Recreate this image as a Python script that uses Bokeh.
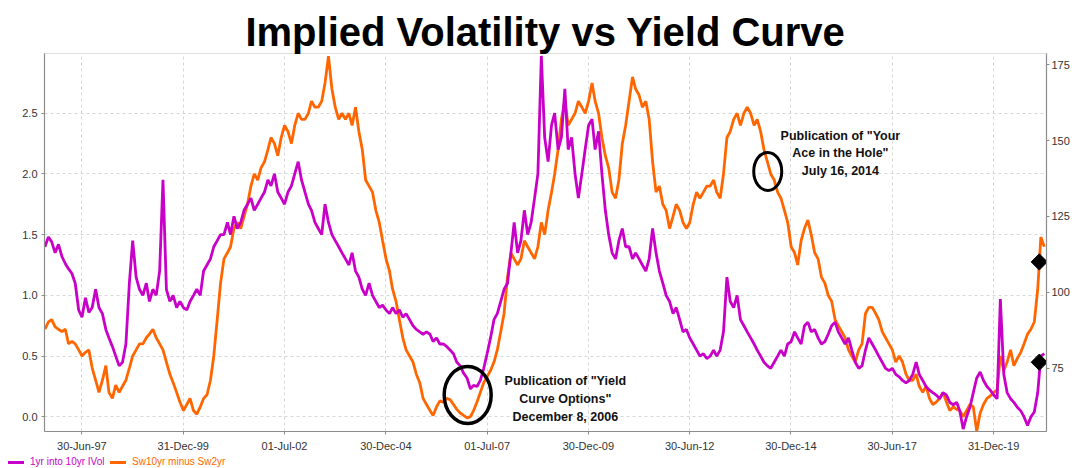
import numpy as np
import pandas as pd
from bokeh.plotting import figure
from bokeh.layouts import column
from bokeh.models import (Range1d, LinearAxis, FixedTicker, Div,
                          NumeralTickFormatter, DatetimeTickFormatter, ColumnDataSource)
from bokeh.core.properties import value
from bokeh.embed import file_html
from bokeh.resources import INLINE

# ---------------- data (monthly readings, Aug-1996 .. Apr-2021) ----------------
start_month = "1996-08-01"
end_month = "2021-04-01"

# 1yr into 10yr implied vol (left axis)
ivol = [
    1.40, 1.48, 1.44, 1.35, 1.42,                                            # 1996
    1.32, 1.26, 1.22, 1.18, 1.10, 0.88, 0.82, 0.98, 0.86, 0.90, 1.05, 0.90,  # 1997
    0.85, 0.72, 0.65, 0.58, 0.50, 0.42, 0.45, 0.60, 1.10, 1.45, 1.15, 1.05,  # 1998
    1.00, 1.10, 0.95, 1.05, 1.00, 1.20, 1.95, 1.05, 0.95, 1.00, 0.90, 0.95,  # 1999
    0.90, 0.88, 0.95, 1.00, 1.05, 1.00, 1.20, 1.25, 1.30, 1.40, 1.45, 1.50,  # 2000
    1.50, 1.60, 1.50, 1.65, 1.55, 1.60, 1.70, 1.75, 1.80, 1.70, 1.75, 1.80,  # 2001
    1.85, 1.95, 1.90, 2.00, 1.85, 1.80, 1.75, 1.85, 1.90, 2.00, 2.10, 1.95,  # 2002
    1.85, 1.75, 1.70, 1.60, 1.55, 1.50, 1.75, 1.60, 1.50, 1.45, 1.40, 1.35,  # 2003
    1.30, 1.25, 1.35, 1.20, 1.15, 1.05, 1.00, 1.10, 1.00, 0.95, 0.90, 0.92,  # 2004
    0.88, 0.85, 0.90, 0.85, 0.88, 0.82, 0.85, 0.80, 0.75, 0.72, 0.70, 0.68,  # 2005
    0.70, 0.68, 0.62, 0.65, 0.60, 0.60, 0.58, 0.55, 0.52, 0.45, 0.42, 0.36,  # 2006
    0.32, 0.23, 0.26, 0.25, 0.30, 0.40, 0.52, 0.65, 0.80, 0.85, 0.95, 1.05,  # 2007
    1.10, 1.35, 1.60, 1.35, 1.45, 1.70, 1.50, 1.60, 1.80, 2.00, 2.97, 2.30,  # 2008
    2.10, 2.40, 2.50, 2.20, 2.30, 2.70, 2.20, 2.30, 2.00, 1.80, 2.00, 2.20,  # 2009
    2.40, 2.45, 2.20, 2.35, 2.00, 1.70, 1.50, 1.35, 1.30, 1.45, 1.55, 1.40,  # 2010
    1.40, 1.30, 1.35, 1.30, 1.25, 1.20, 1.30, 1.55, 1.35, 1.20, 1.10, 1.00,  # 2011
    0.95, 0.85, 0.90, 0.80, 0.70, 0.72, 0.65, 0.60, 0.55, 0.50, 0.52, 0.48,  # 2012
    0.50, 0.55, 0.50, 0.55, 0.70, 1.15, 0.95, 0.90, 1.00, 0.80, 0.75, 0.70,  # 2013
    0.65, 0.60, 0.55, 0.50, 0.45, 0.42, 0.40, 0.45, 0.50, 0.55, 0.50, 0.60,  # 2014
    0.62, 0.70, 0.65, 0.60, 0.75, 0.78, 0.70, 0.72, 0.65, 0.60, 0.62, 0.68,  # 2015
    0.75, 0.78, 0.70, 0.65, 0.60, 0.65, 0.55, 0.45, 0.40, 0.42, 0.55, 0.65,  # 2016
    0.60, 0.55, 0.50, 0.45, 0.40, 0.38, 0.40, 0.35, 0.33, 0.30, 0.28, 0.30,  # 2017
    0.35, 0.45, 0.35, 0.30, 0.25, 0.22, 0.20, 0.18, 0.15, 0.20, 0.18, 0.12,  # 2018
    0.10, 0.12, 0.05, -0.10, 0.00, 0.08, 0.20, 0.32, 0.37, 0.30, 0.25, 0.22, # 2019
    0.18, 0.15, 0.97, 0.35, 0.20, 0.15, 0.12, 0.08, 0.05, 0.00, -0.07, 0.00, # 2020
    0.04, 0.20, 0.50, 0.52,                                                  # 2021
]

# Sw10yr minus Sw2yr in bp (right axis)
spread_bp = [
    87.8, 90.2, 91.0, 88.6, 87.8,                                            # 1996
    87.0, 87.8, 83.0, 83.8, 83.0, 81.0, 79.0, 80.2, 81.0, 75.0, 71.0, 67.0,  # 1997
    71.0, 75.8, 67.0, 65.0, 69.4, 67.0, 69.0, 71.0, 75.0, 79.0, 81.0, 83.0,  # 1998
    83.0, 85.0, 86.2, 87.8, 85.0, 83.0, 81.0, 77.0, 73.0, 70.2, 67.0, 63.8,  # 1999
    61.0, 63.0, 65.0, 61.0, 59.8, 62.2, 65.0, 66.2, 71.0, 79.0, 91.0, 103.0, # 2000
    111.0, 113.0, 115.0, 121.0, 123.0, 121.0, 125.0, 129.0, 135.0, 139.0, 137.0, 141.0,  # 2001
    143.0, 147.0, 151.0, 149.0, 145.0, 151.0, 155.0, 153.0, 149.0, 155.0, 159.0, 157.0,  # 2002
    157.0, 159.0, 163.0, 161.0, 161.0, 163.0, 169.0, 177.8, 167.0, 161.0, 157.0, 159.0,  # 2003
    157.0, 159.0, 155.0, 161.0, 153.0, 147.0, 137.0, 135.0, 133.0, 127.0, 123.0, 117.0,  # 2004
    111.0, 107.0, 101.0, 97.0, 91.0, 85.0, 81.0, 79.0, 77.0, 73.0, 70.2, 65.0,  # 2005
    63.0, 61.0, 59.4, 62.2, 64.2, 63.8, 65.0, 64.6, 63.0, 61.4, 60.2, 59.4,  # 2006
    58.6, 59.0, 61.0, 63.8, 67.0, 70.2, 72.2, 74.2, 77.0, 81.0, 87.0, 93.0,  # 2007
    105.0, 113.0, 111.0, 109.0, 111.0, 117.0, 115.0, 113.0, 111.0, 115.0, 123.0, 119.0,  # 2008
    127.0, 133.0, 139.0, 147.0, 157.0, 163.0, 155.0, 157.0, 159.0, 163.0, 161.0, 159.0,  # 2009
    163.0, 169.0, 163.0, 159.0, 151.0, 145.0, 141.0, 133.0, 131.0, 137.0, 149.0, 155.0,  # 2010
    163.0, 171.0, 167.0, 165.0, 161.0, 163.0, 157.0, 143.0, 133.0, 135.0, 129.0, 127.0,  # 2011
    121.0, 125.0, 129.0, 127.0, 123.0, 121.0, 123.0, 129.0, 133.0, 131.0, 133.0, 135.0,  # 2012
    135.0, 137.0, 133.0, 131.0, 139.0, 151.0, 153.0, 157.0, 159.0, 155.0, 159.0, 161.0,  # 2013
    159.0, 155.0, 157.0, 153.0, 147.0, 143.0, 139.0, 137.0, 133.0, 131.0, 127.0, 123.0,  # 2014
    115.0, 113.0, 109.0, 117.0, 121.0, 123.8, 119.0, 113.0, 111.0, 105.0, 103.0, 99.0,   # 2015
    97.0, 91.0, 89.0, 87.0, 85.0, 81.0, 79.0, 77.0, 81.0, 83.0, 93.0, 95.0,  # 2016
    95.0, 93.0, 91.0, 87.0, 85.0, 83.0, 81.0, 77.0, 79.0, 77.0, 73.0, 71.0,  # 2017
    71.0, 73.0, 69.0, 67.0, 69.0, 65.0, 63.0, 63.8, 65.0, 67.0, 63.8, 61.0,  # 2018
    62.2, 61.4, 61.0, 59.0, 61.0, 63.0, 62.2, 54.2, 60.2, 63.0, 65.0, 65.8,  # 2019
    67.0, 67.8, 79.0, 74.2, 77.0, 81.0, 75.8, 78.2, 80.2, 83.0, 86.2, 87.8,  # 2020
    90.2, 101.0, 118.2, 115.0,                                               # 2021
]

# last-value markers
last_ivol = [0.45]
last_spread_bp = [110.0]

# axes
x_start = "1996-07-28"
x_end = "2021-04-21"
left_range = (-0.12, 2.99)
right_range = (54.1, 178.7)
left_ticks = [0.0, 0.5, 1.0, 1.5, 2.0, 2.5]
right_ticks = [75, 100, 125, 150, 175]
tick_dates = ["1997-06-30", "1999-12-31", "2002-07-01", "2004-12-30", "2007-07-01",
              "2009-12-30", "2012-06-30", "2014-12-30", "2017-06-30", "2019-12-31"]
tick_labels = ["30-Jun-97", "31-Dec-99", "01-Jul-02", "30-Dec-04", "01-Jul-07",
               "30-Dec-09", "30-Jun-12", "30-Dec-14", "30-Jun-17", "31-Dec-19"]

# annotations
circle_dates = ["2007-01-07", "2014-06-04"]
circle_vals = [0.18, 2.02]
note_dates = ["2009-06-05", "2016-03-20"]
note_vals = [0.15, 2.17]
note_lines = [["Publication of \"Yield", "Curve Options\"", "December 8, 2006"],
              ["Publication of \"Your", "Ace in the Hole\"", "July 16, 2014"]]

series_names = ["1yr into 10yr IVol", "Sw10yr minus Sw2yr"]
title_text = "Implied Volatility vs Yield Curve"

# ---------------- build ----------------
PURPLE = "#C800C8"
ORANGE = "#FF6600"
FONT = "Liberation Sans"
W = 1072

def ms(d):
    return pd.Timestamp(d).value / 1e6

dates = pd.date_range(start_month, end_month, freq="MS")
assert len(dates) == len(ivol) == len(spread_bp)

p = figure(width=W, height=454, x_axis_type="datetime",
           x_range=Range1d(pd.Timestamp(x_start), pd.Timestamp(x_end)),
           y_range=Range1d(*left_range),
           output_backend="svg", toolbar_location=None,
           min_border_left=44, min_border_right=24, min_border_top=53,
           min_border_bottom=21)
p.extra_y_ranges = {"bp": Range1d(*right_range)}

p.title.text = title_text
p.title.align = "center"
p.title.text_font = FONT
p.title.text_font_style = "bold"
p.title.text_font_size = "40px"
p.title.text_color = "#000000"
p.title.standoff = 0

p.outline_line_color = "#dddddd"
p.background_fill_color = "white"
p.border_fill_color = "white"

xa = p.xaxis[0]
xa.ticker = FixedTicker(ticks=[ms(d) for d in tick_dates])
xa.formatter = DatetimeTickFormatter(days="%d-%b-%y", months="%d-%b-%y", years="%d-%b-%y")
xa.major_label_overrides = {ms(d): lab for d, lab in zip(tick_dates, tick_labels)}

ya = p.yaxis[0]
ya.ticker = FixedTicker(ticks=left_ticks)
ya.formatter = NumeralTickFormatter(format="0.0")

ra = LinearAxis(y_range_name="bp", ticker=FixedTicker(ticks=right_ticks))
p.add_layout(ra, "right")

for ax in [xa, ya, ra]:
    ax.axis_line_color = "#8c8c8c"
    ax.axis_line_width = 1.2
    ax.major_tick_line_color = "#8c8c8c"
    ax.major_tick_in = 0
    ax.major_tick_out = 3
    ax.minor_tick_line_color = None
    ax.axis_label_standoff = 0
    ax.major_label_text_font = FONT
    ax.major_label_text_font_size = "11px"
    ax.major_label_text_color = "#333333"
xa.major_label_standoff = 5
ya.major_label_standoff = 4
ra.major_label_standoff = 2

for g in [p.xgrid[0], p.ygrid[0]]:
    g.grid_line_color = "#d6d6d6"
    g.grid_line_dash = "3 3"
    g.grid_line_width = 1
p.xgrid[0].ticker = xa.ticker
p.ygrid[0].ticker = ya.ticker

p.line(dates, spread_bp, y_range_name="bp", line_color=ORANGE, line_width=2.8)
p.line(dates, ivol, line_color=PURPLE, line_width=2.8)

# end-of-series markers, kept just inside the frame
end_x = [dates[-1] - pd.Timedelta(days=45)]
p.scatter(end_x, last_spread_bp, y_range_name="bp", marker="square", angle=np.pi / 4,
          size=11.5, fill_color="black", line_color="black")
p.scatter(end_x, last_ivol, marker="square", angle=np.pi / 4,
          size=11.5, fill_color="black", line_color="black")

p.ellipse(x=[pd.Timestamp(circle_dates[0])], y=[circle_vals[0]], width=47, height=57,
          width_units="screen", height_units="screen", fill_color=None,
          line_color="black", line_width=3.5)
p.ellipse(x=[pd.Timestamp(circle_dates[1])], y=[circle_vals[1]], width=28, height=38,
          width_units="screen", height_units="screen", fill_color=None,
          line_color="black", line_width=3)

for d, v, lines, gap in zip(note_dates, note_vals, note_lines, [18, 17.5]):
    src = ColumnDataSource(dict(x=[pd.Timestamp(d)] * 3, y=[v] * 3, t=lines,
                                off=[-gap, 0, gap]))
    p.text(x="x", y="y", text="t", y_offset="off", source=src,
           text_font=value(FONT), text_font_style="bold", text_font_size=value("12.5px"),
           text_color="#111111", text_align="center", text_baseline="middle")

# --- legend strip: each label in its series colour ---
def legend_entry(left, color, label):
    return (f'<span style="position:absolute;left:{left}px;top:7px;width:16px;height:3px;'
            f'background:{color};"></span>'
            f'<span style="position:absolute;left:{left + 22}px;top:2px;color:{color};'
            f'white-space:nowrap;line-height:12px;">{label}</span>')

legend_html = (f'<div style="position:relative;width:{W}px;height:14px;'
               f"font-family:'{FONT}',sans-serif;font-size:10px;\">"
               + legend_entry(8, PURPLE, series_names[0])
               + legend_entry(110, ORANGE, series_names[1])
               + '</div>')
legend_div = Div(text=legend_html, width=W, height=14, margin=(0, 0, 0, 0))

layout = column(p, legend_div, spacing=0)
open("out.html", "w").write(file_html(layout, INLINE))
